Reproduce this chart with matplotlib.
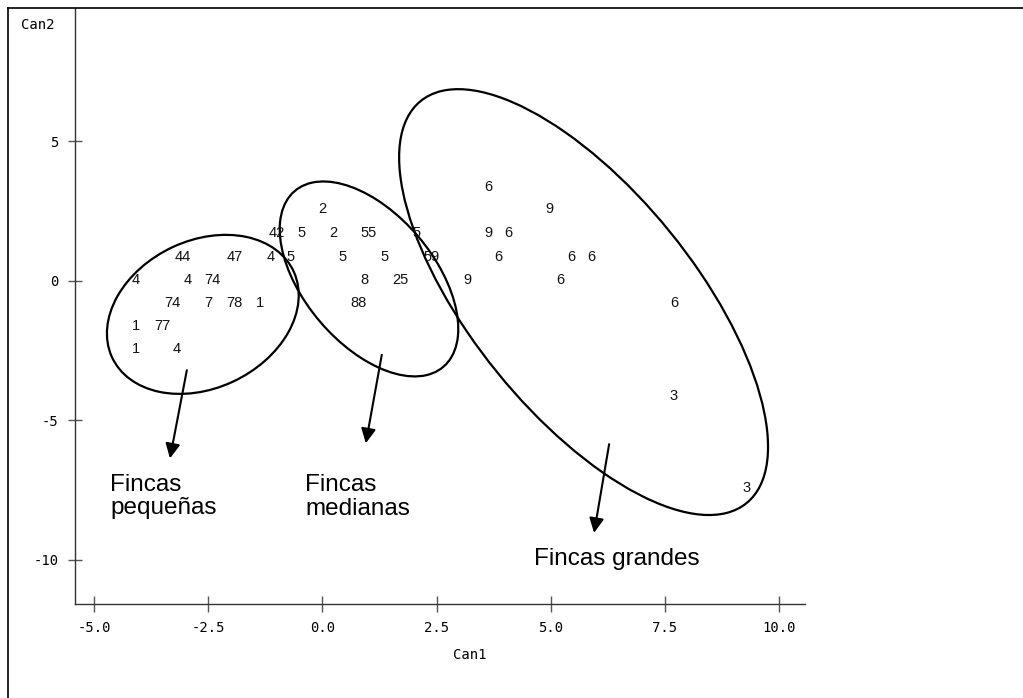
import numpy as np
import matplotlib
matplotlib.use("Agg")
import matplotlib.pyplot as plt
from matplotlib.patches import Ellipse
from matplotlib.lines import Line2D

# canonical scores (Can1, Can2) and cluster label of each farm
can1 = [3.63,
        0.00, 4.98,
        -1.00, -0.46, 0.23, 1.02, 2.05, 3.63, 4.08,
        -3.05, -1.92, -1.14, -0.69, 0.45, 1.35, 2.39, 3.85, 5.46, 5.89,
        -4.08, -2.95, -2.40, 0.91, 1.70, 3.18, 5.22,
        -3.28, -2.51, -1.92, -1.37, 0.80, 7.70,
        -4.08, -3.50,
        -4.08, -3.19,
        7.70,
        9.29]
can2 = [3.38,
        2.56, 2.56,
        1.72, 1.72, 1.72, 1.72, 1.72, 1.72, 1.72,
        0.87, 0.87, 0.87, 0.87, 0.87, 0.87, 0.87, 0.87, 0.87, 0.87,
        0.04, 0.04, 0.04, 0.04, 0.04, 0.04, 0.04,
        -0.79, -0.79, -0.79, -0.79, -0.79, -0.79,
        -1.61, -1.61,
        -2.44, -2.44,
        -4.11,
        -7.43]
lab = ["6",
       "2", "9",
       "42", "5", "2", "55", "5", "9", "6",
       "44", "47", "4", "5", "5", "5", "59", "6", "6", "6",
       "4", "4", "74", "8", "25", "9", "6",
       "74", "7", "78", "1", "88", "6",
       "1", "77",
       "1", "4",
       "3",
       "3"]

xticks = [-5.0, -2.5, 0.0, 2.5, 5.0, 7.5, 10.0]
yticks = [5, 0, -5, -10]

# group ellipses: center x, center y, width, height, angle (data units)
ell_cx = [-2.62, 1.02, 5.72]
ell_cy = [-1.20, 0.07, -0.76]
ell_w = [5.87, 7.34, 16.36]
ell_h = [3.96, 3.20, 5.53]
ell_ang = [71.1, 109.9, 112.5]

# arrows from each group to its caption
arr_x0 = [-2.97, 1.30, 6.28]
arr_y0 = [-3.20, -2.65, -5.85]
arr_x1 = [-3.34, 0.95, 5.95]
arr_y1 = [-6.36, -5.82, -9.03]

W, H = 1023, 698
fig = plt.figure(figsize=(W / 100, H / 100), dpi=100)
ax = fig.add_axes([75 / W, 1 - 604 / H, (805 - 75) / W, (604 - 8) / H])
ax.set_xlim(-5.42, 10.57)
ax.set_ylim(-11.58, 9.78)

for s in ["top", "right"]:
    ax.spines[s].set_visible(False)
for s in ["left", "bottom"]:
    ax.spines[s].set_color("#333333")
    ax.spines[s].set_linewidth(1.0)

ax.set_xticks(xticks)
ax.set_xticklabels(["%.1f" % v for v in xticks])
ax.set_yticks(yticks)
ax.set_yticklabels(["%d" % v for v in yticks])
ax.tick_params(axis="x", direction="inout", length=12, width=1, color="#555555", pad=6)
ax.tick_params(axis="y", direction="inout", length=10, width=1, color="#555555", pad=7)
for t in ax.get_xticklabels() + ax.get_yticklabels():
    t.set_fontfamily("DejaVu Sans Mono")
    t.set_fontsize(10)

for x, y, s in zip(can1, can2, lab):
    ax.text(x, y, s, ha="center", va="center", fontsize=10.5,
            family="Liberation Sans", color="#111111")

for cx, cy, w, h, a in zip(ell_cx, ell_cy, ell_w, ell_h, ell_ang):
    ax.add_patch(Ellipse((cx, cy), w, h, angle=a, fill=False, ec="black", lw=1.6))

for x0, y0, x1, y1 in zip(arr_x0, arr_y0, arr_x1, arr_y1):
    ax.annotate("", xy=(x1, y1), xytext=(x0, y0),
                arrowprops=dict(arrowstyle="-|>", color="black", lw=1.5,
                                mutation_scale=22, shrinkA=0, shrinkB=0))

cap = dict(fontsize=17.5, family="Liberation Sans", color="black", va="baseline", ha="left")
ax.text(-4.65, -7.52, "Fincas", **cap)
ax.text(-4.65, -8.35, "pequeñas", **cap)
ax.text(-0.38, -7.52, "Fincas", **cap)
ax.text(-0.38, -8.39, "medianas", **cap)
ax.text(4.63, -10.18, "Fincas grandes", **cap)

fig.text(38 / W, 1 - 25 / H, "Can2", ha="center", va="center",
         family="DejaVu Sans Mono", fontsize=10)
fig.text(470 / W, 1 - 655 / H, "Can1", ha="center", va="center",
         family="DejaVu Sans Mono", fontsize=10)

# outer frame of the page
fig.add_artist(Line2D([8 / W, 8 / W], [0, 1 - 8 / H], color="black", lw=1.2))
fig.add_artist(Line2D([8 / W, 1], [1 - 8 / H, 1 - 8 / H], color="black", lw=1.2))

fig.savefig("out.png", dpi=100)
